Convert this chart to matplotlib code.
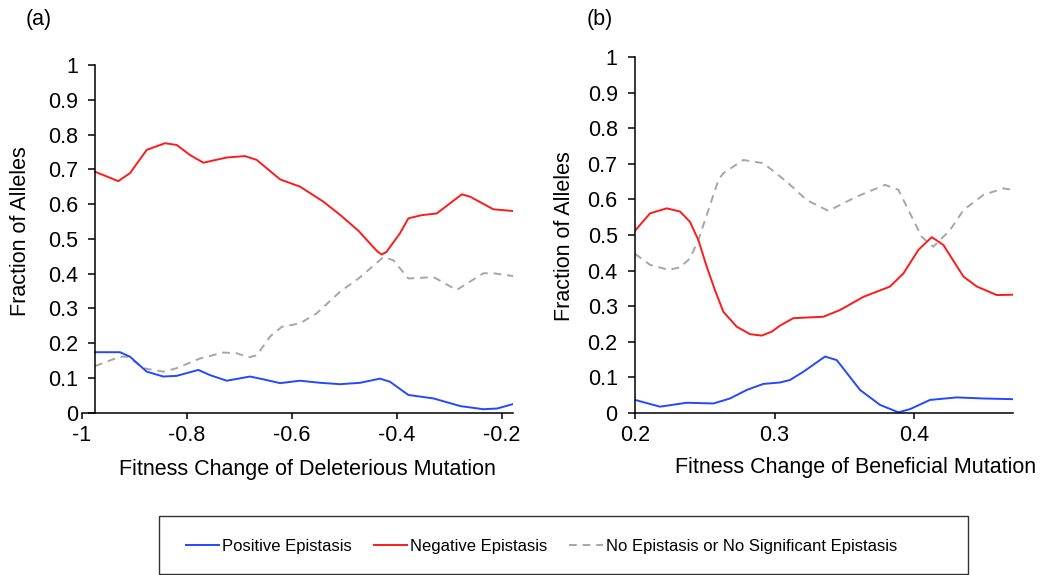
import matplotlib.pyplot as plt
from matplotlib.patches import Rectangle

plt.rcParams['font.family'] = ['Liberation Sans', 'DejaVu Sans']

# panel (a): deleterious mutation
del_pos_x = [-0.9752, -0.9276, -0.9085, -0.8766, -0.8450, -0.8195, -0.7782, -0.7560, -0.7241, -0.6797,
             -0.6543, -0.6225, -0.5843, -0.5462, -0.5082, -0.470, -0.432, -0.413, -0.378, -0.330,
             -0.279, -0.235, -0.209, -0.178]
del_pos_y = [0.174, 0.174, 0.161, 0.118, 0.104, 0.106, 0.123, 0.108, 0.092, 0.104,
             0.096, 0.085, 0.092, 0.086, 0.082, 0.086, 0.098, 0.089, 0.051, 0.041,
             0.019, 0.010, 0.012, 0.025]

del_neg_x = [-0.9752, -0.9308, -0.9085, -0.8766, -0.8418, -0.8195, -0.7941, -0.7687, -0.7241, -0.6892,
             -0.6669, -0.6225, -0.5843, -0.5400, -0.5082, -0.473, -0.438, -0.429, -0.420, -0.394,
             -0.378, -0.353, -0.324, -0.276, -0.260, -0.216, -0.178]
del_neg_y = [0.693, 0.666, 0.689, 0.756, 0.775, 0.770, 0.741, 0.719, 0.734, 0.738,
             0.727, 0.671, 0.650, 0.607, 0.569, 0.523, 0.465, 0.455, 0.462, 0.516,
             0.559, 0.568, 0.573, 0.628, 0.621, 0.585, 0.580]

del_none_x = [-0.9752, -0.9276, -0.9117, -0.8831, -0.8450, -0.8195, -0.7750, -0.7306, -0.7051, -0.6829,
              -0.6669, -0.6416, -0.6193, -0.5843, -0.5525, -0.5082, -0.473, -0.426, -0.407, -0.378,
              -0.330, -0.286, -0.235, -0.216, -0.178]
del_none_y = [0.134, 0.161, 0.161, 0.128, 0.118, 0.128, 0.156, 0.173, 0.171, 0.159,
              0.165, 0.219, 0.247, 0.257, 0.286, 0.348, 0.386, 0.447, 0.439, 0.386,
              0.390, 0.353, 0.401, 0.401, 0.393]

# panel (b): beneficial mutation
ben_pos_x = [0.2000, 0.2179, 0.2371, 0.2562, 0.2681, 0.2801, 0.2920, 0.3039, 0.3111, 0.3206, 0.3362,
             0.3446, 0.3613, 0.3756, 0.3888, 0.3971, 0.4115, 0.4306, 0.4497, 0.4713]
ben_pos_y = [0.036, 0.017, 0.028, 0.026, 0.040, 0.064, 0.081, 0.085, 0.092, 0.115, 0.158,
             0.148, 0.064, 0.022, 0.001, 0.010, 0.036, 0.043, 0.040, 0.038]

ben_neg_x = [0.2000, 0.2108, 0.2227, 0.2323, 0.2394, 0.2454, 0.2514, 0.2573, 0.2633, 0.2729, 0.2824,
             0.2908, 0.2980, 0.3039, 0.3135, 0.3350, 0.3470, 0.3637, 0.3828, 0.3924, 0.4031, 0.4127,
             0.4210, 0.4354, 0.4450, 0.4593, 0.4713]
ben_neg_y = [0.512, 0.561, 0.575, 0.566, 0.537, 0.486, 0.411, 0.345, 0.284, 0.242, 0.221,
             0.217, 0.228, 0.245, 0.266, 0.270, 0.289, 0.326, 0.355, 0.392, 0.458, 0.494,
             0.472, 0.383, 0.355, 0.331, 0.332]

ben_none_x = [0.2000, 0.2108, 0.2239, 0.2323, 0.2394, 0.2454, 0.2526, 0.2598, 0.2633, 0.2776, 0.2920,
              0.3087, 0.3231, 0.3386, 0.3589, 0.3792, 0.3888, 0.3971, 0.4055, 0.4138, 0.4258, 0.4354,
              0.4497, 0.4641, 0.4713]
ben_none_y = [0.447, 0.416, 0.402, 0.409, 0.434, 0.486, 0.570, 0.655, 0.674, 0.711, 0.702,
              0.650, 0.598, 0.568, 0.608, 0.641, 0.627, 0.561, 0.495, 0.467, 0.514, 0.570,
              0.613, 0.631, 0.627]

y_ticks = [0, 0.1, 0.2, 0.3, 0.4, 0.5, 0.6, 0.7, 0.8, 0.9, 1]
y_labels = ['0', '0.1', '0.2', '0.3', '0.4', '0.5', '0.6', '0.7', '0.8', '0.9', '1']
a_ticks = [-1, -0.8, -0.6, -0.4, -0.2]
a_labels = ['-1', '-0.8', '-0.6', '-0.4', '-0.2']
b_ticks = [0.2, 0.3, 0.4]
b_labels = ['0.2', '0.3', '0.4']

blue = '#2448ff'
red = '#ff1a1a'
gray = '#a6a6a6'

fig = plt.figure(figsize=(10.44, 5.75), dpi=100)
ax1 = fig.add_axes([0.07854, 0.28226, 0.41313, 0.6047])
ax2 = fig.add_axes([0.60824, 0.28226, 0.36177, 0.61809])


def style(ax, xlim, xticks, xlabels, ystart):
    ax.set_xlim(*xlim)
    ax.set_ylim(0, 1)
    ax.spines['top'].set_visible(False)
    ax.spines['right'].set_visible(False)
    ax.spines['left'].set_position(('data', ystart))
    for s in ['left', 'bottom']:
        ax.spines[s].set_linewidth(1.1)
    ax.set_yticks(y_ticks)
    ax.set_yticklabels(y_labels)
    ax.set_xticks(xticks)
    ax.set_xticklabels(xlabels)
    ax.tick_params(axis='y', length=5, width=1.1, pad=7.5, labelsize=15.5)
    ax.tick_params(axis='x', length=4, width=1.1, pad=5, labelsize=15.5)
    ax.patch.set_visible(False)


for ax, px, py, nx, ny, gx, gy in [
        (ax1, del_pos_x, del_pos_y, del_neg_x, del_neg_y, del_none_x, del_none_y),
        (ax2, ben_pos_x, ben_pos_y, ben_neg_x, ben_neg_y, ben_none_x, ben_none_y)]:
    ax.plot(gx, gy, color=gray, lw=1.4, ls=(0, (4, 3)), label='No Epistasis or No Significant Epistasis')
    ax.plot(nx, ny, color=red, lw=1.4, solid_joinstyle='round', label='Negative Epistasis')
    ax.plot(px, py, color=blue, lw=1.4, solid_joinstyle='round', label='Positive Epistasis')

style(ax1, (-1, -0.178), a_ticks, a_labels, -0.975)
style(ax2, (0.2, 0.4707), b_ticks, b_labels, 0.2)

fig.text(21 / 1044, 1 - 231 / 575, 'Fraction of Alleles', rotation=90, fontsize=15.5, ha='center', va='center')
fig.text(565 / 1044, 1 - 236 / 575, 'Fraction of Alleles', rotation=90, fontsize=15.5, ha='center', va='center')
fig.text(307.5 / 1044, 1 - 469 / 575, 'Fitness Change of Deleterious Mutation', fontsize=15.5, ha='center', va='center')
fig.text(855.8 / 1044, 1 - 468 / 575, 'Fitness Change of Beneficial Mutation', fontsize=15.5, ha='center', va='center')
fig.text(39 / 1044, 1 - 20 / 575, '(a)', fontsize=15.5, ha='center', va='center')
fig.text(600 / 1044, 1 - 20 / 575, '(b)', fontsize=15.5, ha='center', va='center')

# legend box
fig.patches.append(Rectangle((158.5 / 1044, 1 - 574 / 575), (967.5 - 158.5) / 1044, (574 - 516) / 575,
                             transform=fig.transFigure, fill=False, edgecolor='#333333', lw=1.0))
h, l = ax1.get_legend_handles_labels()
order = [2, 1, 0]
fig.legend([h[i] for i in order], [l[i] for i in order], loc='center',
           bbox_to_anchor=(541.5 / 1044, 1 - 546 / 575), ncol=3, frameon=False, fontsize=12,
           handlelength=2.0, handletextpad=0.2, columnspacing=1.3)

fig.savefig('out.png', dpi=100)
